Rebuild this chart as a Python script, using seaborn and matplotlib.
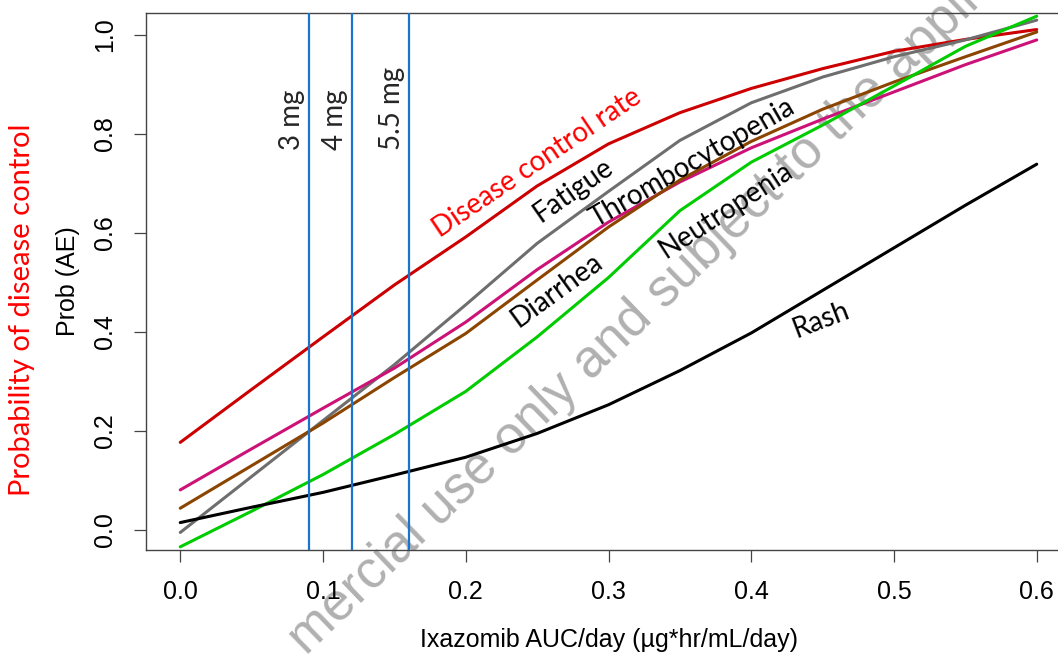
import matplotlib
matplotlib.use("Agg")
import matplotlib.pyplot as plt
import pandas as pd
import seaborn as sns

# values
auc = [0.0, 0.05, 0.10, 0.15, 0.20, 0.25, 0.30, 0.35, 0.40, 0.45, 0.50, 0.55, 0.60]
dcr = [0.177, 0.284, 0.390, 0.495, 0.592, 0.695, 0.780, 0.843, 0.892, 0.932, 0.967, 0.991, 1.011]
fatigue = [-0.005, 0.108, 0.221, 0.334, 0.455, 0.579, 0.684, 0.787, 0.863, 0.915, 0.956, 0.990, 1.030]
thrombocytopenia = [0.081, 0.164, 0.246, 0.327, 0.420, 0.526, 0.622, 0.703, 0.772, 0.830, 0.885, 0.940, 0.990]
diarrhea = [0.044, 0.130, 0.216, 0.308, 0.397, 0.505, 0.612, 0.707, 0.785, 0.850, 0.905, 0.956, 1.006]
neutropenia = [-0.034, 0.038, 0.112, 0.193, 0.280, 0.390, 0.510, 0.645, 0.743, 0.818, 0.897, 0.977, 1.038]
rash = [0.015, 0.046, 0.076, 0.111, 0.147, 0.195, 0.253, 0.322, 0.398, 0.484, 0.570, 0.656, 0.739]

series_names = ["Disease control rate", "Fatigue", "Thrombocytopenia", "Diarrhea", "Neutropenia", "Rash"]
series_colors = ["#CC0000", "#6E6E6E", "#CC1177", "#8B4500", "#00CC00", "#000000"]

dose_auc = [0.09, 0.12, 0.16]
dose_labels = ["3 mg", "4 mg", "5.5 mg"]

# curve label placement (x, y, angle)
label_pos = {
    "Disease control rate": (0.250, 0.741, 34),
    "Fatigue": (0.275, 0.687, 35),
    "Thrombocytopenia": (0.359, 0.741, 30),
    "Diarrhea": (0.264, 0.485, 36),
    "Neutropenia": (0.382, 0.646, 33),
    "Rash": (0.449, 0.424, 21),
}

frames = []
for name, vals in zip(series_names, [dcr, fatigue, thrombocytopenia, diarrhea, neutropenia, rash]):
    frames.append(pd.DataFrame({"auc": auc, "prob": vals, "series": name}))
df = pd.concat(frames, ignore_index=True)

sns.set_style("white")
plt.rcParams["font.family"] = ["Liberation Sans", "DejaVu Sans"]

fig = plt.figure(figsize=(10.58, 6.56), dpi=100)
fig.patch.set_facecolor("white")
ax = fig.add_axes([146 / 1058, 106 / 656, (1071 - 146) / 1058, 537 / 656])
ax.set_facecolor("none")

# watermark, behind the plot
fig.text(306 / 1058, 0.0, "mercial use only and subject to the appli", rotation=44,
         rotation_mode="anchor", ha="left", va="baseline", fontsize=38,
         color="#b0b0b0", zorder=-1)

sns.lineplot(data=df, x="auc", y="prob", hue="series", hue_order=series_names,
             palette=dict(zip(series_names, series_colors)), linewidth=2.2,
             errorbar=None, legend=False, ax=ax)

for xv, lab in zip(dose_auc, dose_labels):
    ax.axvline(xv, color="#1874CD", linewidth=1.6, zorder=5)
    ax.text(xv - 0.0115, 0.768, lab, rotation=90, rotation_mode="anchor",
            ha="left", va="center", fontsize=20, family=["Lato", "DejaVu Sans"])

for name in series_names:
    x, y, ang = label_pos[name]
    ax.text(x, y, name, rotation=ang, rotation_mode="anchor", ha="center", va="center",
            fontsize=20, family=["Lato", "DejaVu Sans"],
            color="#FF0000" if name == "Disease control rate" else "black")

ax.set_xlim(-0.024, 0.624)
ax.set_ylim(-0.0404, 1.0444)
ax.set_xticks([0.0, 0.1, 0.2, 0.3, 0.4, 0.5, 0.6])
ax.set_xticklabels(["0.0", "0.1", "0.2", "0.3", "0.4", "0.5", "0.6"])
ax.set_yticks([0.0, 0.2, 0.4, 0.6, 0.8, 1.0])
ax.set_yticklabels(["0.0", "0.2", "0.4", "0.6", "0.8", "1.0"], rotation=90, va="center")
ax.tick_params(axis="both", direction="out", length=8.6, width=0.9, color="#444444",
               labelsize=18, labelcolor="black", bottom=True, left=True)
ax.tick_params(axis="x", pad=13)
ax.tick_params(axis="y", pad=12)
for sp in ax.spines.values():
    sp.set_color("#444444")
    sp.set_linewidth(1.0)

ax.set_xlabel("Ixazomib AUC/day (µg*hr/mL/day)", fontsize=18, labelpad=17, color="black")
ax.set_ylabel("Prob (AE)", fontsize=18, labelpad=10, color="black")
fig.text(22 / 1058, 1 - 310 / 656, "Probability of disease control", rotation=90,
         ha="center", va="center", fontsize=21, color="#FF0000",
         family=["Lato", "DejaVu Sans"])

fig.savefig("out.png", dpi=100)
